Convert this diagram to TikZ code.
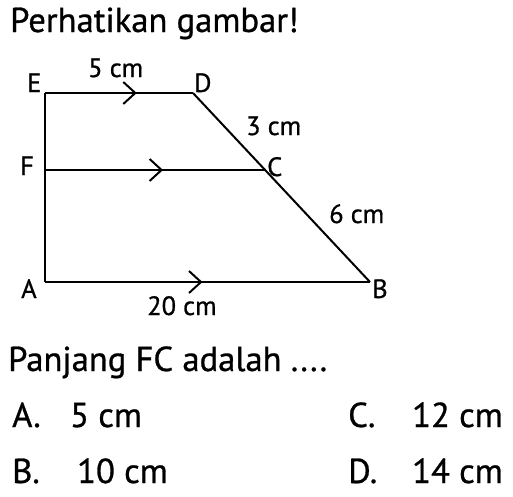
\documentclass[tikz,border=0pt]{standalone}
\usepackage{fontspec}
\setmainfont{PT Sans}[FakeBold=0.8]
\usetikzlibrary{decorations.markings}
\begin{document}
\begin{tikzpicture}[x=1pt,y=-1pt,
  edge/.style={line width=2pt,line join=miter},
  chev/.style={postaction={decorate},decoration={markings,
     mark=at position #1 with {\draw[line width=2pt] (-12,-11) -- (0,0) -- (-12,11);}}},
  big/.style={inner sep=0pt,anchor=base west,font=\fontsize{34.6}{40}\selectfont},
  lab/.style={inner sep=0pt,anchor=base west,font=\fontsize{26.5}{30}\selectfont}]
\useasboundingbox (0,0) rectangle (513,496);
\fill[white] (0,0) rectangle (513,496);
% points
\coordinate (E) at (45,93);
\coordinate (D) at (193,93);
\coordinate (F) at (45,170);
\coordinate (C) at (265,170);
\coordinate (A) at (45,282);
\coordinate (B) at (370,282);
% edges
\draw[edge] (E) -- (A);
\draw[edge] (D) -- (B);
\draw[edge,chev=0.61] (E) -- (D);
\draw[edge,chev=0.53] (F) -- (C);
\draw[edge,chev=0.48] (A) -- (B);
% labels
\node[big] (t1) at (10,32) {Perhatikan gambar!};
\node[lab] (lE) at (27,92) {E};
\node[lab] (lD) at (194,92) {D};
\node[lab] (l5) at (88,77) {5 cm};
\node[lab] (l3) at (246,135) {3 cm};
\node[lab] (lF) at (20,175) {F};
\node[lab] (lC) at (267,176) {C};
\node[lab] (l6) at (329,223) {6 cm};
\node[lab] (lA) at (21,298) {A};
\node[lab] (lB) at (372,298) {B};
\node[lab] (l20) at (147,315) {20 cm};
\node[big] (q) at (8,371) {Panjang FC adalah ....};
\node[big] (oa) at (12,427) {A.};
\node[big] (va) at (70,427) {5 cm};
\node[big] (ob) at (12,483) {B.};
\node[big] (vb) at (77,483) {10 cm};
\node[big] (oc) at (348,427) {C.};
\node[big] (vc) at (412,427) {12 cm};
\node[big] (od) at (348,483) {D.};
\node[big] (vd) at (412,483) {14 cm};
\end{tikzpicture}
\end{document}
